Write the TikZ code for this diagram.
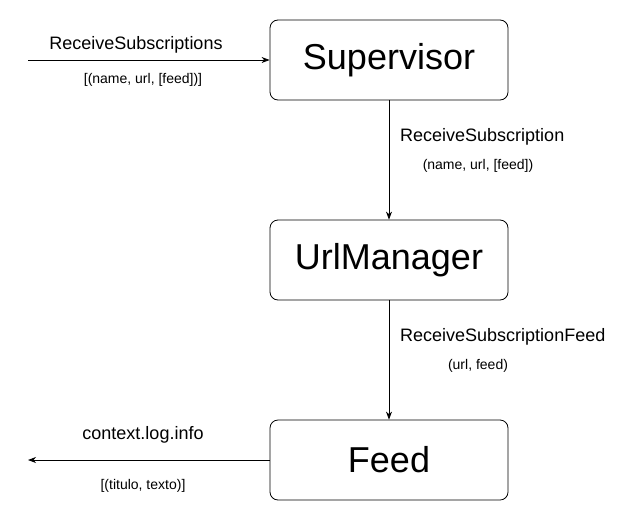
\documentclass[tikz,border=0pt]{standalone}
\usepackage{fontspec}
\setmainfont{Liberation Sans}
\usetikzlibrary{arrows.meta}
\tikzset{
  box/.style={draw, rounded corners=8pt, minimum width=238pt, minimum height=80pt, inner sep=0pt, font=\fontsize{36}{40}\selectfont, line width=0.8pt},
  conn/.style={-{Stealth[length=8pt,width=6pt,inset=2.5pt]}, line width=0.8pt},
  biglbl/.style={font=\fontsize{18}{20}\selectfont, inner sep=0pt},
  smalllbl/.style={font=\fontsize{14}{16}\selectfont, inner sep=0pt},
}
\begin{document}
\begin{tikzpicture}[x=1pt,y=-1pt]
\useasboundingbox (0,0) rectangle (644,522);
\node[box] (sup) at (389,60) {Supervisor};
\node[box] (url) at (389,260) {UrlManager};
\node[box] (feed) at (389,460) {Feed};
\coordinate (in) at (28,60);
\coordinate (out) at (28,460);
\draw[conn] (in) -- (sup.west);
\draw[conn] (sup.south) -- (url.north);
\draw[conn] (url.south) -- (feed.north);
\draw[conn] (feed.west) -- (out);
\node[biglbl] (l1) at (136,45) {ReceiveSubscriptions};
\node[smalllbl] (l1b) at (143,80) {[(name, url, [feed])]};
\node[biglbl, anchor=west] (l2) at (400,137) {ReceiveSubscription};
\node[smalllbl] (l2b) at (478,166) {(name, url, [feed])};
\node[biglbl, anchor=west] (l3) at (400,337) {ReceiveSubscriptionFeed};
\node[smalllbl] (l3b) at (478,366) {(url, feed)};
\node[biglbl] (l4) at (143,435) {context.log.info};
\node[smalllbl] (l4b) at (143,486) {[(titulo, texto)]};
\end{tikzpicture}
\end{document}
